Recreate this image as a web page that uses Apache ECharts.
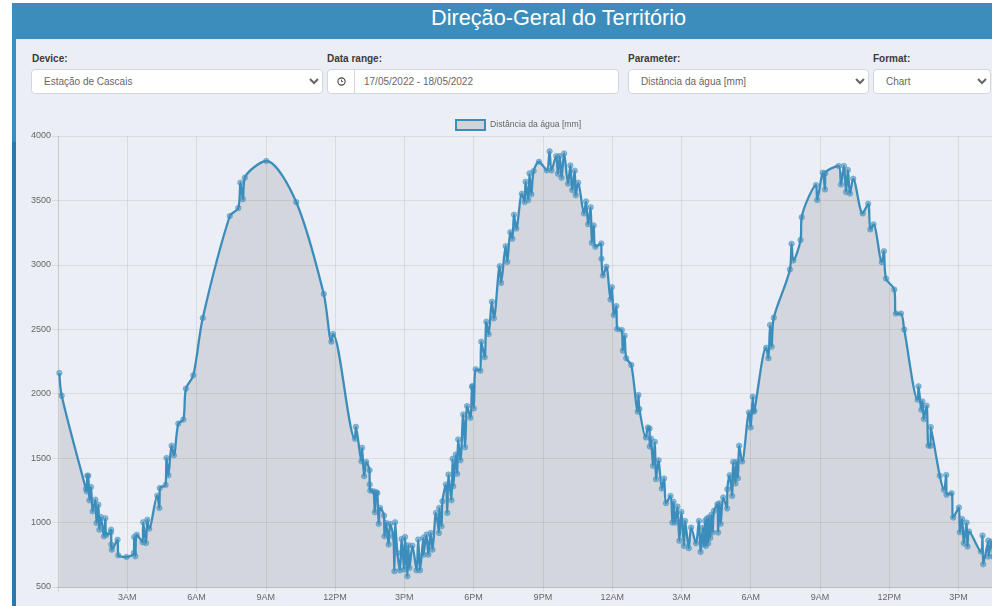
<!DOCTYPE html>
<html>
<head>
<meta charset="utf-8">
<title>Direção-Geral do Território</title>
<script src="https://cdn.jsdelivr.net/npm/echarts@6/dist/echarts.min.js"></script>
<style>
html, body { margin: 0; padding: 0; width: 992px; height: 606px; overflow: hidden; background: #fff; font-family: "Liberation Sans", Arial, sans-serif; }
#strip { position: absolute; left: 12px; top: 3px; width: 4px; height: 603px; background: linear-gradient(#3c8dbc 23%, #2f77a6 23%); }
#header { position: absolute; left: 12px; top: 3px; width: 980px; height: 36px; background: #3c8dbc; }
#title { position: absolute; left: 431px; top: 3px; color: #fff; font-size: 21.7px; line-height: 30px; white-space: nowrap; }
#panel { position: absolute; left: 16px; top: 39px; width: 976px; height: 567px; background: #ebeff5; border-top: 1px solid #dfe6ee; box-sizing: border-box; }
.lbl { position: absolute; top: 52px; font-size: 10px; line-height: 13px; font-weight: bold; color: #3a3a3a; }
select, .box { position: absolute; top: 69px; height: 25px; box-sizing: border-box; background-color: #fff; border: 1px solid #d2d6de; border-radius: 4px; color: #666; font-family: inherit; font-size: 10px; }
select { padding-left: 8px; }
.box { line-height: 23px; }
#chart { position: absolute; left: 0; top: 100px; width: 1040px; height: 506px; }
</style>
</head>
<body>
<div id="panel"></div>
<div id="strip"></div>
<div id="header"></div>
<div id="title">Direção-Geral do Território</div>

<div class="lbl" style="left:32px">Device:</div>
<select style="left:31px;width:292px"><option>Estação de Cascais</option></select>

<div class="lbl" style="left:327px">Data range:</div>
<div class="box" style="left:327px;width:28px;border-radius:4px 0 0 4px">
  <svg width="26" height="23" viewBox="0 0 26 23" style="display:block"><circle cx="13.5" cy="11.5" r="3.6" fill="none" stroke="#444" stroke-width="1.1"/><path d="M13.5 9.6v2h1.6" fill="none" stroke="#444" stroke-width="0.9"/></svg>
</div>
<div class="box" style="left:354px;width:265px;padding-left:9px;border-radius:0 4px 4px 0">17/05/2022 - 18/05/2022</div>

<div class="lbl" style="left:628px">Parameter:</div>
<select style="left:628px;width:241px"><option>Distância da água [mm]</option></select>

<div class="lbl" style="left:873px">Format:</div>
<select style="left:873px;width:118px"><option>Chart</option></select>

<div id="chart"></div>

<script>
var legendName = 'Distância da água [mm]';
var yTicks = [500, 4000, 500];
// hours since 00:00 of the 17th
var hours = [
  0.06, 0.16, 1.21, 1.25, 1.27, 1.31, 1.36, 1.43, 1.5, 1.62, 1.67, 1.75, 1.79, 1.86, 1.99, 2.05, 2.09, 2.29, 2.3, 2.31, 2.33, 2.58, 2.61, 2.97, 3.29, 3.3, 3.35, 3.41, 3.67, 3.69, 3.81, 3.87, 3.95,
  4.3, 4.39, 4.41, 4.66, 4.7, 4.78, 4.92, 5.02, 5.21, 5.43, 5.54, 5.86, 6.27, 7.44, 7.81, 7.9, 8.01, 8.09, 9.02, 10.32, 11.51, 11.84, 11.91,
  12.86, 12.9, 13.14, 13.17, 13.26, 13.35, 13.49, 13.5, 13.52, 13.66, 13.72, 13.78, 13.83, 13.89, 13.95, 14.12, 14.14, 14.21, 14.32, 14.38, 14.52, 14.57, 14.6, 14.7, 14.81, 14.88, 14.99, 15.03, 15.13, 15.17, 15.22, 15.35, 15.53, 15.6, 15.68, 15.82, 15.83, 15.96, 16.04, 16.14, 16.22, 16.37, 16.5, 16.51, 16.61, 16.65, 16.8, 16.86, 16.91, 17.04, 17.09, 17.12, 17.23, 17.29, 17.33, 17.43, 17.55, 17.63, 17.72, 17.86, 17.93, 17.95, 18.01,
  18.09, 18.29, 18.33, 18.48, 18.55, 18.65, 18.79, 18.88, 19.13, 19.19, 19.39, 19.46, 19.59, 19.68, 19.75, 19.85, 20.09, 20.21, 20.25, 20.37, 20.42, 20.5, 20.6, 20.83, 21.17, 21.29, 21.37, 21.58, 21.65, 21.73, 21.81, 21.92, 22.09, 22.19, 22.27, 22.38, 22.42, 22.53, 22.78, 22.87, 22.96, 23.07, 23.12, 23.2, 23.27, 23.53, 23.54, 23.6, 23.75, 23.93, 23.99, 24.07, 24.18,
  24.22, 24.42, 24.46, 24.54, 24.61, 24.83, 25.11, 25.14, 25.18, 25.46, 25.55, 25.62, 25.63, 25.68, 25.77, 25.85, 25.9, 26.01, 26.15, 26.25, 26.33, 26.53, 26.61, 26.66, 26.73, 26.83, 26.91, 27, 27.11, 27.16, 27.32, 27.42, 27.63, 27.76, 27.83, 27.93, 27.97, 28.03, 28.06, 28.1, 28.13, 28.16, 28.18, 28.25, 28.3, 28.35, 28.41, 28.56, 28.59, 28.65, 28.7, 28.81, 28.98, 28.99, 29.09, 29.2, 29.24, 29.34, 29.38, 29.45, 29.5, 29.63, 29.93, 30, 30.09, 30.12, 30.16,
  30.67, 30.77, 30.84, 30.91, 31, 31.7, 31.77, 31.85, 32.16, 32.21, 32.83, 32.88, 33.12, 33.22, 33.23, 33.81, 33.91, 34.04, 34.13, 34.21, 34.3, 34.44, 34.85, 35.09, 35.18, 35.32, 35.68, 35.77, 35.86, 36.22, 36.29, 36.51, 36.65,
  37.23, 37.27, 37.39, 37.44, 37.5, 37.62, 37.7, 37.79, 37.8, 38.19, 38.37, 38.47, 38.48, 38.7, 38.77, 39.02, 39.06, 39.16, 39.23, 39.35, 39.39, 39.46, 39.97, 40.04, 40.07, 40.29, 40.3, 40.43, 40.5
];
// distance to water, mm
var distance = [
  2161, 1985, 1260, 1242, 1364, 1364, 1173, 1276, 1087, 1178, 997, 1139, 945, 1043, 893, 1033, 905, 925, 945, 829, 790, 867, 746, 733, 764, 888, 738, 906, 847, 1002, 841, 1022, 953,
  1209, 1113, 1268, 1292, 1501, 1367, 1597, 1522, 1768, 1799, 2039, 2143, 2588, 3379, 3441, 3638, 3509, 3676, 3806, 3486, 2774, 2404, 2463,
  1650, 1743, 1476, 1580, 1360, 1471, 1406, 1295, 1248, 1243, 1080, 1236, 1230, 990, 1114, 1054, 894, 997, 829, 990, 894, 622, 1002, 764, 629, 873, 635, 888, 583, 824, 648, 821, 630, 868, 630, 881, 751, 907, 751, 920, 790, 1075, 920, 1114, 971, 1166, 1295, 1075, 1373, 1173, 1495, 1282, 1528, 1378, 1645, 1484, 1839, 1585, 1904, 1813, 2054, 2059, 1886,
  2190, 2179, 2404, 2283, 2559, 2463, 2714, 2585, 2990, 2860, 3145, 3023, 3254, 3202, 3389, 3282, 3552, 3487, 3645, 3503, 3710, 3547, 3728, 3800, 3733, 3881, 3733, 3844, 3707, 3844, 3676, 3865, 3630, 3772, 3580, 3731, 3541, 3637, 3399, 3492, 3316, 3448, 3171, 3306, 3140, 3166, 3047, 2917, 2985, 2731, 2827, 2611, 2680,
  2502, 2494, 2334, 2450, 2275, 2223, 1861, 1990, 1881, 1660, 1738, 1730, 1590, 1653, 1440, 1627, 1337, 1484, 1264, 1342, 1150, 1207, 1000, 1161, 1000, 1124, 858, 1083, 819, 1013, 801, 961, 839, 1013, 772, 960, 830, 1013, 819, 1030, 880, 839, 1039, 880, 1060, 922, 1091, 1142, 922, 1150, 990, 1194, 1109, 1259, 1368, 1207, 1471, 1303, 1471, 1344, 1596, 1474, 1855, 1738, 1977, 1861, 1868,
  2357, 2275, 2533, 2365, 2590, 2964, 3163, 3034, 3192, 3370, 3619, 3503, 3715, 3585, 3710, 3767, 3624, 3767, 3565, 3736, 3554, 3668, 3399, 3474, 3275, 3314, 3021, 3106, 2894, 2808, 2622, 2622, 2498,
  1953, 2057, 1875, 1940, 1803, 1906, 1596, 1596, 1741, 1363, 1254, 1370, 1215, 1228, 1039, 1117, 925, 1028, 839, 1000, 814, 930, 775, 899, 676, 860, 736, 852, 736
];

function hourLabel(h) {
  if (h === 0 || h % 3 !== 0) return '';
  var d = h % 24;
  if (d === 0) return '12AM';
  if (d === 12) return '12PM';
  return d < 12 ? d + 'AM' : (d - 12) + 'PM';
}

var points = hours.map(function (h, i) { return [h, distance[i]]; });
var gridColor = 'rgba(0,0,0,0.08)';

var chart = echarts.init(document.getElementById('chart'));
chart.setOption({
  animation: false,
  textStyle: { fontFamily: '"Liberation Sans", Arial, sans-serif' },
  legend: {
    left: 450, top: 14, icon: 'rect', itemWidth: 29, itemHeight: 10, itemGap: 4,
    textStyle: { color: '#666', fontSize: 8.7 },
    itemStyle: { color: '#d0d3d8', borderColor: '#3c8dbc', borderWidth: 2 },
    data: [legendName]
  },
  grid: { left: 58, top: 36, width: 970.2, height: 451 },
  xAxis: {
    type: 'value', min: 0, max: 42, interval: 3,
    axisLine: { lineStyle: { color: 'rgba(0,0,0,0.14)' } },
    axisTick: { length: 5, lineStyle: { color: gridColor } },
    axisLabel: { color: '#666', fontSize: 9, margin: 6, formatter: hourLabel },
    splitLine: { lineStyle: { color: gridColor } }
  },
  yAxis: {
    type: 'value', min: yTicks[0], max: yTicks[1], interval: yTicks[2],
    axisLine: { show: true, lineStyle: { color: gridColor } },
    axisTick: { show: true, length: 6, lineStyle: { color: gridColor } },
    axisLabel: { color: '#666', fontSize: 9, margin: 7, formatter: function (v) { return String(v); } },
    splitLine: { lineStyle: { color: gridColor } }
  },
  series: [{
    name: legendName,
    type: 'line',
    data: points,
    smooth: 0.3,
    showSymbol: true,
    showAllSymbol: true,
    symbol: 'circle',
    symbolSize: 5.5,
    lineStyle: { color: '#3c8dbc', width: 2.3 },
    itemStyle: { color: 'rgba(60,141,188,0.55)', borderColor: 'rgba(60,141,188,0.45)', borderWidth: 1 },
    areaStyle: { color: 'rgba(0,0,0,0.1)', opacity: 1 }
  }]
});
</script>
</body>
</html>
